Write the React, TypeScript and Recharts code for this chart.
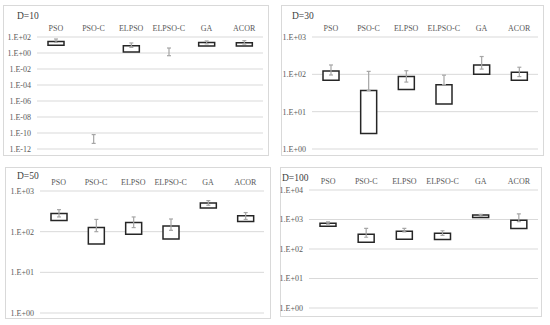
import React from "react";
import { ComposedChart, Bar, XAxis, YAxis, CartesianGrid } from "recharts";

const categories = ["PSO", "PSO-C", "ELPSO", "ELPSO-C", "GA", "ACOR"];

// D=10
const d10BoxLow = [9, null, 1.33, null, 7.5, 7.5];
const d10BoxHigh = [28, null, 8.1, null, 21, 19.5];
const d10WhiskerLow = [21, 5e-12, 5, 0.46, 14, 13];
const d10WhiskerHigh = [56, 6.3e-11, 18, 4.2, 32, 35];
const d10Ticks = [1e-12, 1e-10, 1e-8, 1e-6, 1e-4, 1e-2, 1, 1e2];

// D=30
const d30BoxLow = [69, 2.6, 39, 16, 100, 69];
const d30BoxHigh = [123, 37, 87, 53, 178, 113];
const d30WhiskerLow = [96, 37, 62, 53, 138, 87];
const d30WhiskerHigh = [178, 120, 125, 95, 300, 155];
const d30Ticks = [1, 10, 100, 1000];

// D=50
const d50BoxLow = [187, 50, 87, 66, 382, 177];
const d50BoxHigh = [278, 126, 167, 138, 507, 245];
const d50WhiskerLow = [230, 100, 126, 108, 445, 200];
const d50WhiskerHigh = [348, 200, 230, 205, 580, 295];
const d50Ticks = [1, 10, 100, 1000];

// D=100
const d100BoxLow = [590, 170, 214, 210, 1180, 500];
const d100BoxHigh = [740, 316, 400, 340, 1410, 940];
const d100WhiskerLow = [700, 250, 380, 290, 1300, 850];
const d100WhiskerHigh = [830, 500, 500, 415, 1500, 1550];
const d100Ticks = [1, 10, 100, 1000, 10000];

const FONT = "'Liberation Serif', 'Times New Roman', serif";

function buildData(bl: (number | null)[], bh: (number | null)[], wl: number[], wh: number[]) {
  return categories.map((name, i) => ({
    name,
    box: bl[i] != null && bh[i] != null ? [bl[i], bh[i]] : null,
    whisker: [wl[i], wh[i]],
  }));
}

function fmtExp(v: number) {
  const e = Math.round(Math.log10(v));
  const sign = e < 0 ? "-" : "+";
  const a = Math.abs(e);
  return `1.E${sign}${a < 10 ? "0" + a : a}`;
}

const Whisker = (props: any) => {
  const { x, y, width, height } = props;
  if (x == null || y == null || height == null) return null;
  const cx = x + width / 2;
  const top = Math.min(y, y + height);
  const bot = Math.max(y, y + height);
  return (
    <g stroke="#a6a6a6" strokeWidth={1.2}>
      <line x1={cx} x2={cx} y1={top} y2={bot} />
      <line x1={cx - 2} x2={cx + 2} y1={top} y2={top} />
      <line x1={cx - 2} x2={cx + 2} y1={bot} y2={bot} />
    </g>
  );
};

type PanelProps = {
  title: string;
  left: number;
  top: number;
  width: number;
  height: number;
  plotLeft: number;
  plotTop: number;
  plotRight: number;
  plotBottom: number;
  titleX: number;
  titleY: number;
  data: any[];
  ticks: number[];
  domain: [number, number];
};

function Panel(p: PanelProps) {
  return (
    <div
      style={{
        position: "absolute",
        left: p.left,
        top: p.top,
        width: p.width,
        height: p.height,
        border: "1px solid #d9d9d9",
        boxSizing: "border-box",
        background: "#fff",
      }}
    >
      <div
        style={{
          position: "absolute",
          left: p.titleX,
          top: p.titleY,
          fontFamily: FONT,
          fontSize: 9.5,
          color: "#404040",
          lineHeight: "10px",
          whiteSpace: "nowrap",
        }}
      >
        {p.title}
      </div>
      <div style={{ position: "absolute", left: -1, top: -1 }}>
        <ComposedChart
          width={p.width}
          height={p.height}
          data={p.data}
          margin={{ top: 0, left: 0, right: p.width - p.plotRight, bottom: p.height - p.plotBottom }}
        >
          <CartesianGrid xAxisId="c" vertical={false} stroke="#d9d9d9" />
          <XAxis
            xAxisId="c"
            dataKey="name"
            orientation="top"
            height={p.plotTop}
            axisLine={false}
            tickLine={false}
            tickSize={0}
            tickMargin={6}
            interval={0}
            tick={{ fontFamily: FONT, fontSize: 8, fill: "#595959" }}
          />
          <XAxis xAxisId="w" dataKey="name" hide height={0} />
          <YAxis
            type="number"
            scale="log"
            domain={p.domain}
            allowDataOverflow
            ticks={p.ticks}
            tickFormatter={fmtExp}
            width={p.plotLeft}
            axisLine={false}
            tickLine={false}
            tickSize={0}
            tickMargin={6}
            interval={0}
            tick={{ fontFamily: FONT, fontSize: 8, fill: "#595959" }}
          />
          <Bar
            xAxisId="c"
            dataKey="box"
            barSize={16}
            fill="#ffffff"
            stroke="#262626"
            strokeWidth={1.5}
            isAnimationActive={false}
          />
          <Bar
            xAxisId="w"
            dataKey="whisker"
            barSize={16}
            shape={Whisker}
            isAnimationActive={false}
          />
        </ComposedChart>
      </div>
    </div>
  );
}

export default function App() {
  return (
    <div style={{ position: "absolute", left: 0, top: 0, width: 550, height: 325, background: "#fff" }}>
      <Panel
        title="D=10"
        left={3}
        top={5}
        width={266}
        height={151}
        plotLeft={34}
        plotTop={32}
        plotRight={260}
        plotBottom={144}
        titleX={13}
        titleY={5}
        data={buildData(d10BoxLow, d10BoxHigh, d10WhiskerLow, d10WhiskerHigh)}
        ticks={d10Ticks}
        domain={[1e-12, 1e2]}
      />
      <Panel
        title="D=30"
        left={281}
        top={5}
        width={263}
        height={151}
        plotLeft={31}
        plotTop={32}
        plotRight={257}
        plotBottom={144}
        titleX={10}
        titleY={5}
        data={buildData(d30BoxLow, d30BoxHigh, d30WhiskerLow, d30WhiskerHigh)}
        ticks={d30Ticks}
        domain={[1, 1e3]}
      />
      <Panel
        title="D=50"
        left={5}
        top={167}
        width={266}
        height={152}
        plotLeft={35}
        plotTop={24}
        plotRight={259}
        plotBottom={146}
        titleX={11}
        titleY={3}
        data={buildData(d50BoxLow, d50BoxHigh, d50WhiskerLow, d50WhiskerHigh)}
        ticks={d50Ticks}
        domain={[1, 1e3]}
      />
      <Panel
        title="D=100"
        left={280}
        top={167}
        width={262}
        height={150}
        plotLeft={29}
        plotTop={23}
        plotRight={258}
        plotBottom={141}
        titleX={1}
        titleY={5}
        data={buildData(d100BoxLow, d100BoxHigh, d100WhiskerLow, d100WhiskerHigh)}
        ticks={d100Ticks}
        domain={[1, 1e4]}
      />
    </div>
  );
}
